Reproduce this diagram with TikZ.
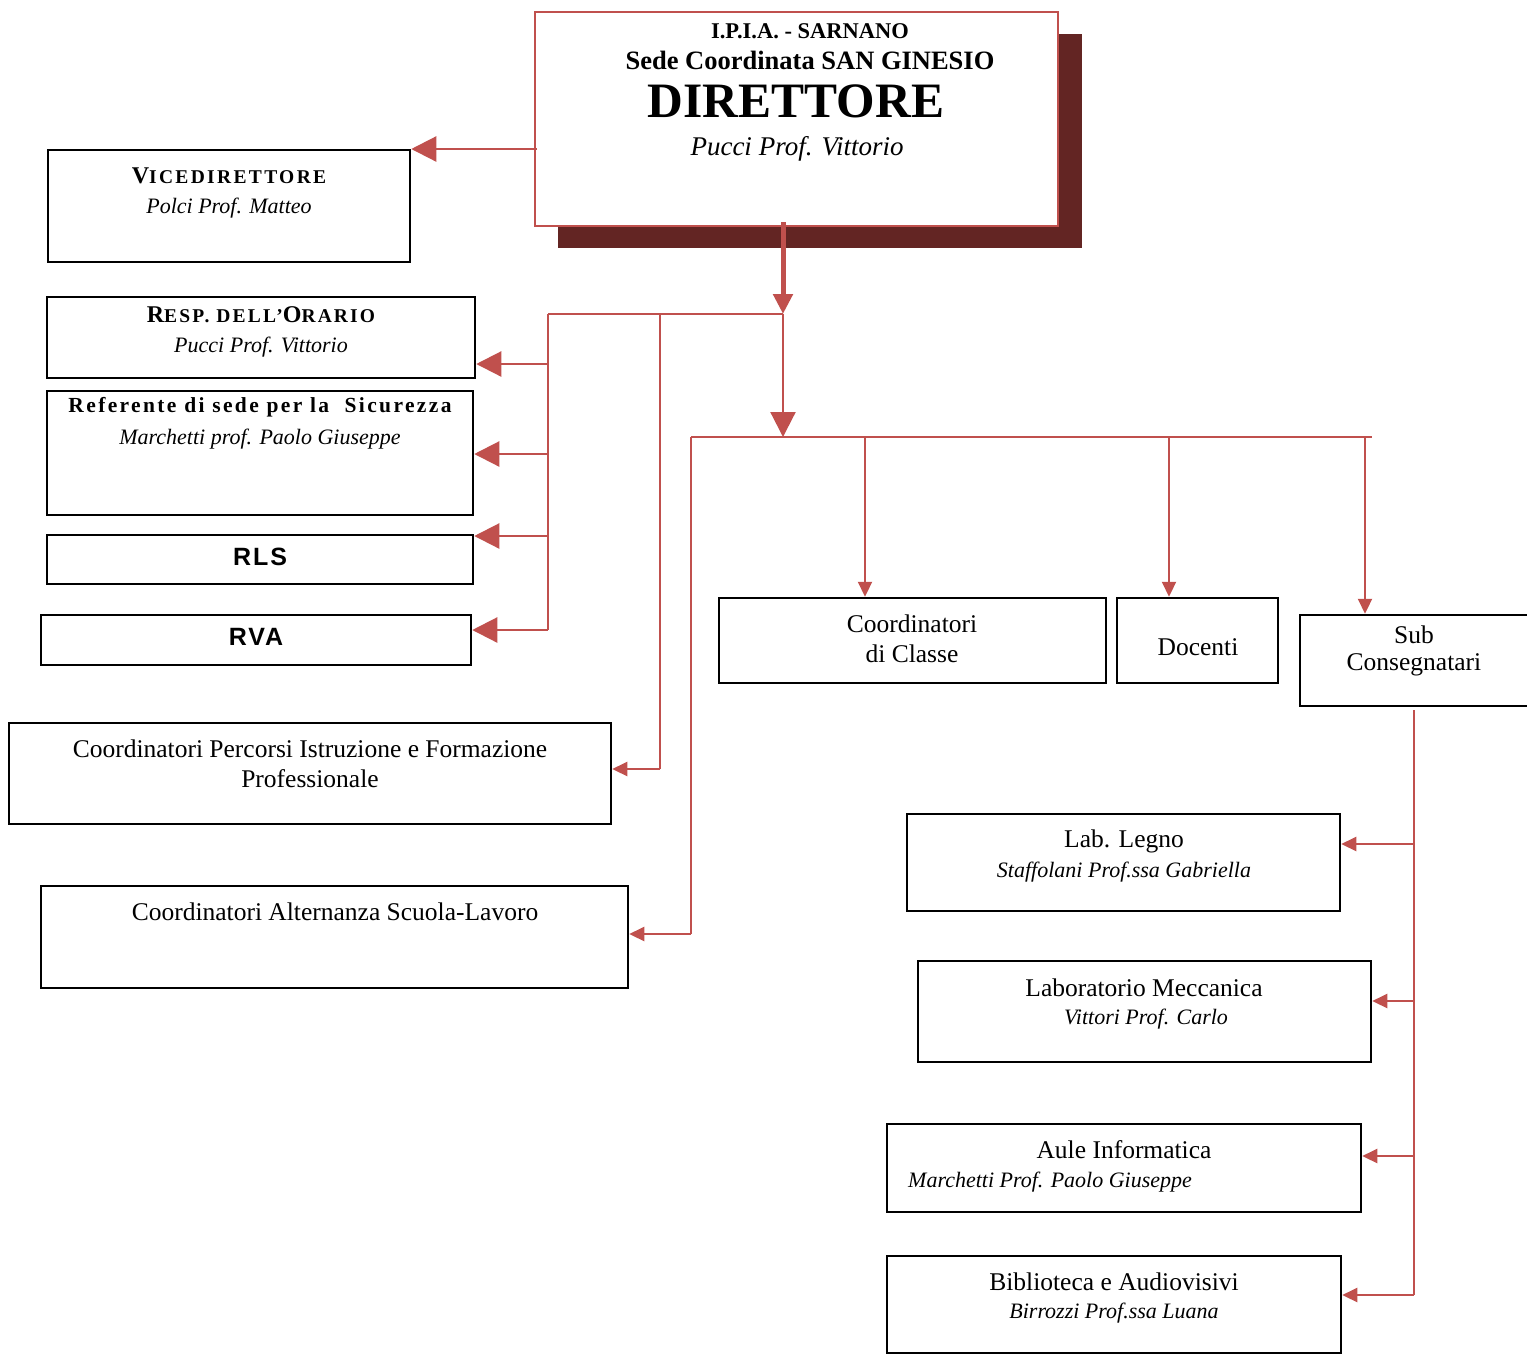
\documentclass[tikz,border=0pt]{standalone}
\usepackage{fontspec}
\setmainfont{Liberation Serif}
\newfontfamily\arialf{Liberation Sans}
\usetikzlibrary{arrows.meta,fit}
\definecolor{cred}{HTML}{C0504D}
\definecolor{shadowc}{HTML}{632523}
\tikzset{
  box/.style={draw=black, line width=2.5pt, inner sep=0pt, fill=white},
  conn/.style={draw=cred, line width=2.2pt},
  bigtip/.style={-{Triangle[length=25pt,width=25pt]}},
  midtip/.style={-{Triangle[length=15pt,width=14pt]}},
  lbl/.style={inner sep=0pt, font=\fontsize{25.5}{30}\selectfont},
  nm/.style={inner sep=0pt, font=\fontsize{22}{26}\selectfont\itshape},
  hd/.style={inner sep=0pt, font=\fontsize{18}{22}\selectfont\bfseries},
  sanslbl/.style={inner sep=0pt, font=\arialf\bfseries\fontsize{25}{29}\selectfont\addfontfeatures{LetterSpace=8}},
}
\begin{document}
\begin{tikzpicture}[x=1pt,y=-1pt]
\useasboundingbox (0,0) rectangle (1527,1361);
% director
\fill[shadowc] (558,34) rectangle (1082,248);
\node[box, draw=cred, line width=2.5pt, fit={(535,12)(1058,226)}] (dir) {};
\node[inner sep=0pt, font=\bfseries\fontsize{22.5}{26}\selectfont] (t1) at (810,31) {I.P.I.A. - SARNANO};
\node[inner sep=0pt, font=\bfseries\fontsize{26.5}{31}\selectfont] (t2) at (810,60) {Sede Coordinata SAN GINESIO};
\node[inner sep=0pt, font=\bfseries\fontsize{49.5}{58}\selectfont] (t3) at (796,101) {DIRETTORE};
\node[inner sep=0pt, font=\itshape\fontsize{27}{32}\selectfont] (t4) at (797,149) {Pucci Prof. Vittorio};

% left boxes
\node[box, fit={(48,150)(410,262)}] (vice) {};
\node[hd] (viceT) at (229,176) {{\fontsize{24}{28}\selectfont\addfontfeatures{LetterSpace=12}V}{\fontsize{19.5}{22}\selectfont\addfontfeatures{LetterSpace=12}ICEDIRETTORE}};
\node[nm] (viceN) at (229,208) {Polci Prof. Matteo};

\node[box, fit={(47,297)(475,378)}] (orario) {};
\node[hd] (orarioT) at (261,315) {{\fontsize{24}{28}\selectfont\addfontfeatures{LetterSpace=10}R}{\fontsize{19.5}{22}\selectfont\addfontfeatures{LetterSpace=11}ESP. DELL’}{\fontsize{24}{28}\selectfont\addfontfeatures{LetterSpace=10}O}{\fontsize{19.5}{22}\selectfont\addfontfeatures{LetterSpace=11}RARIO}};
\node[nm] (orarioN) at (261,347) {Pucci Prof. Vittorio};

\node[box, fit={(47,391)(473,515)}] (ref) {};
\node[hd, font=\fontsize{21.5}{25}\selectfont\bfseries\addfontfeatures{LetterSpace=11}] (refT) at (260,407) {Referente di sede per la\ \ Sicurezza};
\node[nm] (refN) at (260,439) {Marchetti prof. Paolo Giuseppe};

\node[box, fit={(47,535)(473,584)}] (rls) {};
\node[sanslbl] (rlsT) at (260,557) {RLS};
\node[box, fit={(41,615)(471,665)}] (rva) {};
\node[sanslbl] (rvaT) at (256,637) {RVA};

\node[box, fit={(9,723)(611,824)}] (perc) {};
\node[lbl] (percT1) at (310,749) {Coordinatori Percorsi Istruzione e Formazione};
\node[lbl] (percT2) at (310,779) {Professionale};

\node[box, fit={(41,886)(628,988)}] (alt) {};
\node[lbl] (altT) at (335,912) {Coordinatori Alternanza Scuola-Lavoro};

% middle row
\node[box, fit={(719,598)(1106,683)}] (cdc) {};
\node[lbl] (cdcT1) at (912,624) {Coordinatori};
\node[lbl] (cdcT2) at (912,654) {di Classe};
\node[box, fit={(1117,598)(1278,683)}] (doc) {};
\node[lbl] (docT) at (1198,647) {Docenti};
\node[box, fit={(1300,615)(1535,706)}] (sub) {};
\node[lbl] (subT1) at (1414,635) {Sub};
\node[lbl] (subT2) at (1414,665) {Consegnatari};

% right column
\node[box, fit={(907,814)(1340,911)}] (legno) {};
\node[lbl] (legnoT) at (1124,841) {Lab. Legno};
\node[nm] (legnoN) at (1124,872) {Staffolani Prof.ssa Gabriella};
\node[box, fit={(918,961)(1371,1062)}] (mecc) {};
\node[lbl] (meccT) at (1144,988) {Laboratorio Meccanica};
\node[nm] (meccN) at (1146,1019) {Vittori Prof. Carlo};
\node[box, fit={(887,1124)(1361,1212)}] (aule) {};
\node[lbl] (auleT) at (1124,1150) {Aule Informatica};
\node[nm, anchor=west] (auleN) at (908,1182) {Marchetti Prof. Paolo Giuseppe};
\node[box, fit={(887,1256)(1341,1353)}] (bib) {};
\node[lbl] (bibT) at (1114,1282) {Biblioteca e Audiovisivi};
\node[nm] (bibN) at (1114,1313) {Birrozzi Prof.ssa Luana};

% junction coordinates
\coordinate (dv) at (537,149);
\coordinate (j1) at (783,314);
\coordinate (jl1) at (548,314);
\coordinate (jl2) at (660,314);
\coordinate (j2) at (783,437);
\coordinate (jh0) at (691,437);
\coordinate (jhe) at (1372,437);
\coordinate (jc1) at (865,437);
\coordinate (jc2) at (1169,437);
\coordinate (jc3) at (1365,437);
\coordinate (ja) at (691,934);
\coordinate (ro) at (548,364);
\coordinate (rr) at (548,454);
\coordinate (rl) at (548,536);
\coordinate (jl1b) at (548,630);
\coordinate (jl2b) at (660,769);
\coordinate (js0) at (1414,710);
\coordinate (sl) at (1414,844);
\coordinate (sm) at (1414,1001);
\coordinate (sa) at (1414,1156);
\coordinate (js1) at (1414,1295);

% connectors
\draw[conn, bigtip] (dv) -- (dv -| vice.east);
\draw[draw=cred, line width=5pt, -{Triangle[length=20pt,width=19pt]}] (j1 |- 0,222) -- (j1);
\draw[conn] (jl1) -- (j1);
\draw[conn, bigtip] (j1) -- (j2);
\draw[conn] (jl1) -- (jl1b);
\draw[conn] (jl2) -- (jl2b);
\draw[conn, bigtip] (ro) -- (ro -| orario.east);
\draw[conn, bigtip] (rr) -- (rr -| ref.east);
\draw[conn, bigtip] (rl) -- (rl -| rls.east);
\draw[conn, bigtip] (jl1b) -- (jl1b -| rva.east);
\draw[conn, midtip] (jl2b) -- (jl2b -| perc.east);
\draw[conn] (jh0) -- (jhe);
\draw[conn] (jh0) -- (ja);
\draw[conn, midtip] (ja) -- (ja -| alt.east);
\draw[conn, midtip] (jc1) -- (jc1 |- cdc.north);
\draw[conn, midtip] (jc2) -- (jc2 |- doc.north);
\draw[conn, midtip] (jc3) -- (jc3 |- sub.north);
\draw[conn] (js0) -- (js1);
\draw[conn, midtip] (sl) -- (sl -| legno.east);
\draw[conn, midtip] (sm) -- (sm -| mecc.east);
\draw[conn, midtip] (sa) -- (sa -| aule.east);
\draw[conn, midtip] (js1) -- (js1 -| bib.east);
\end{tikzpicture}
\end{document}
